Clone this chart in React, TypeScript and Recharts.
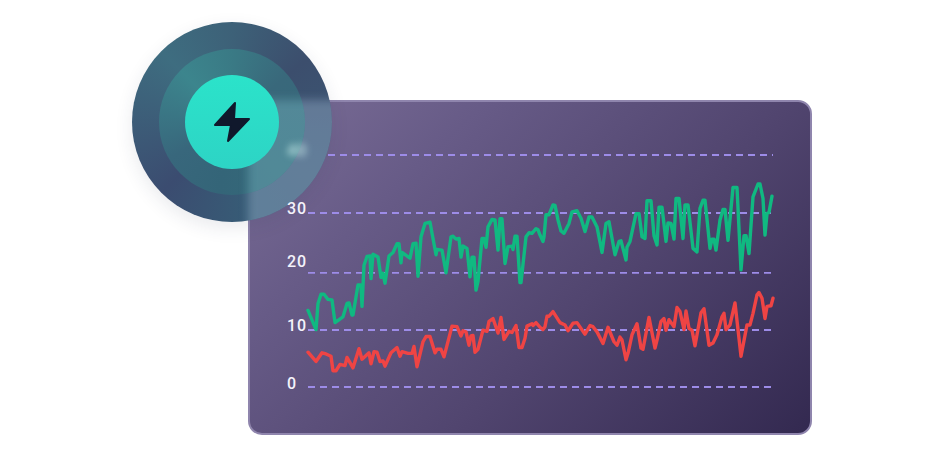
import React from "react";
import { LineChart, Line, XAxis, YAxis, ReferenceLine } from "recharts";

const tickLabels = [0, 10, 20, 30, 40];
const gridValues = [0, 9.83, 19.66, 30];
const topGridValue = 40;

const greenT = [0,8,10,13,16,20,24,27,35,39,41,44,45,50,53,54,56,59,62,63,65,70,73,75,77,81,85,89,91,93,94,102,105,108,110,113,117,122,128,129,134,138,143,145,148,151,153,155,159,162,164,166,168,170,174,176,178,180,184,187,190,192,194,197,200,204,205,207,209,212,213,218,221,224,228,230,232,235,236,238,241,245,247,250,253,256,261,264,269,273,277,281,284,289,294,298,301,307,311,313,318,319,322,328,331,334,337,339,343,346,349,351,354,358,360,363,366,368,371,375,377,380,385,389,392,395,397,402,404,406,408,412,415,417,420,425,429,433,436,438,441,445,450,452,455,457,459,461,464];
const greenV = [13.2,9.9,14.4,16,16,15.1,15,11.1,12.1,14.4,14.5,12.4,12.4,17.6,17.6,13.9,21,22.5,22.6,18.7,22.9,22.4,18.9,19.6,17.9,22.6,23.2,24.7,24.7,21.4,23.2,22.2,24.7,24.8,19.1,25.9,28.2,28.4,22.8,23.7,23.6,19.7,25.9,26,25.5,25.6,22.4,24.3,23.9,19,22.4,22.4,16.7,18.2,25.6,25.6,24.1,27.6,28.9,28.8,23.6,29,29,21.3,24.2,24.3,23.7,26,26,18,18,25.9,26.6,26.5,27.3,27.1,26.2,25.1,25.9,29.7,29.7,31.4,31.3,28.8,26.9,26.5,28.2,30.2,30.4,29.1,26.8,29.3,29.3,27.6,23.2,28.2,28.5,22.8,25.1,25.2,21.9,24.1,25.1,29.9,29.9,25.9,25.6,32.1,32.1,26.1,24.5,31,31,25.1,28.3,28.2,25.5,32.5,32.5,25.6,31.4,31.4,23.9,23.3,30.8,32.2,32.2,23.9,25.5,25.5,23.6,28.8,30.6,30.6,25.3,34.4,34.4,20.2,26.1,26.1,23,32.8,35,35,32.5,26.2,29.9,30.1,32.9];

const redT = [0,8,14,18,23,25,28,32,37,39,45,51,54,61,63,66,69,72,75,77,83,89,92,94,100,104,106,109,115,118,122,127,129,133,136,144,149,153,155,158,161,163,165,167,170,175,179,181,185,190,193,196,201,204,208,211,214,217,219,224,225,228,232,235,237,239,241,245,252,257,260,265,269,277,282,285,289,295,300,306,309,312,314,318,320,324,329,333,335,341,347,349,353,356,358,361,366,369,372,376,378,381,384,387,393,396,401,405,409,414,416,418,422,427,433,439,442,445,449,451,454,457,459,463,465];
const redV = [6,4.4,5.9,5.7,5.3,2.8,2.8,3.9,3.7,5.1,3.3,6.6,4.8,5.9,4,6.1,6,4.4,4.5,3.6,5.9,6.8,5.3,6.1,5.8,5.8,7,3.5,7.8,8.7,8.7,5.9,6.5,6.5,5.2,10.5,10.4,8.8,9.7,9.5,7.2,8.8,8.9,6,6.5,9.8,9.6,11.3,11.8,9.3,12,8.2,9.6,9.4,10.6,6.8,6.8,8.4,10.5,10.9,10.6,11.1,10.3,9.9,10.4,12.2,12.2,13,11.1,10.7,9.7,11,11.1,9.1,10.6,10.4,9.5,7.5,10.3,7.8,7.2,8.6,8.1,4.7,5.8,9,10.9,6.7,6.5,12,6.7,8.1,11.3,11.8,9.8,11.6,10.4,13.7,13,9.9,13.1,10.1,9.8,7.1,12.8,13.5,7.2,7.6,9,12.1,12.7,9.9,10.7,14.5,5.3,10.7,10.7,12.7,15.9,16.3,15.3,11.8,13.9,14,15.3];

const greenData = greenT.map((t, i) => ({ t, v: greenV[i] }));
const redData = redT.map((t, i) => ({ t, v: redV[i] }));

const labelShift: Record<number, number> = { 0: -4, 10: -4, 20: -10, 30: -5, 40: -5 };

function Tick(props: any) {
  const { y, payload } = props;
  const v = payload.value;
  return (
    <text
      x={287}
      y={y + labelShift[v]}
      textAnchor="start"
      dominantBaseline="central"
      fontFamily="Roboto"
      fontWeight={500}
      fontSize={16}
      letterSpacing={0.8}
      fill={v === 40 ? "#c8ecea" : "#f4f2fa"}
      style={v === 40 ? { filter: "blur(3.5px)" } : undefined}
    >
      {v}
    </text>
  );
}

const abs: React.CSSProperties = { position: "absolute" };

function Glass({ r, color }: { r: number; color: string }) {
  return (
    <div
      style={{
        ...abs,
        left: r + 16,
        top: r - 22,
        width: 300,
        height: 300,
        background: color,
        filter: "blur(4px)",
      }}
    />
  );
}

export default function App() {
  return (
    <div style={{ ...abs, left: 0, top: 0, width: 942, height: 464, background: "#fff", overflow: "hidden" }}>
      <div
        style={{
          ...abs,
          boxSizing: "border-box",
          left: 248,
          top: 100,
          width: 564,
          height: 335,
          borderRadius: 14,
          border: "2px solid #8f85ad",
          background: "linear-gradient(136deg,#7a6d96 0%,#675b87 26%,#51456f 60%,#332950 100%)",
        }}
      />
      <div
        style={{
          ...abs,
          left: 132,
          top: 22,
          width: 200,
          height: 200,
          borderRadius: "50%",
          overflow: "hidden",
          background:
            "conic-gradient(#3d6178 0deg,#3c4e6d 50deg,#3b5874 110deg,#375c76 170deg,#3b4c70 225deg,#3e6d80 315deg,#3d6178 360deg)",
        }}
      >
        <Glass r={100} color="rgba(170,190,220,0.36)" />
      </div>
      <div style={{ ...abs, left: 132, top: 22, width: 200, height: 200, borderRadius: "50%", boxShadow: "0 6px 18px rgba(40,50,80,0.10)" }} />
      <div
        style={{
          ...abs,
          left: 159,
          top: 49,
          width: 146,
          height: 146,
          borderRadius: "50%",
          overflow: "hidden",
          background:
            "conic-gradient(#3a7a85 0deg,#39687b 50deg,#35697a 140deg,#346578 190deg,#38677c 240deg,#3c858d 315deg,#3a7a85 360deg)",
        }}
      >
        <Glass r={73} color="rgba(140,205,215,0.32)" />
      </div>
      <div
        style={{
          ...abs,
          left: 185,
          top: 75,
          width: 94,
          height: 94,
          borderRadius: "50%",
          background: "linear-gradient(180deg,#2be3ca 0%,#2dd4c5 100%)",
        }}
      />
      <svg width={942} height={464} style={{ ...abs, left: 0, top: 0 }}>
        <path
          d="M235 103 L215 125 L231 125 L228 141 L249 119 L234 119 Z"
          fill="#10182c"
          stroke="#10182c"
          strokeWidth={2}
          strokeLinejoin="round"
        />
      </svg>
      <div style={{ ...abs, left: 0, top: 0 }}>
        <LineChart
          width={942}
          height={464}
          data={greenData}
          margin={{ left: 268, right: 169, top: 155, bottom: 77 }}
        >
          <XAxis type="number" dataKey="t" domain={[0, 465]} hide />
          <YAxis
            type="number"
            width={40}
            domain={[0, 40]}
            ticks={tickLabels}
            axisLine={false}
            tickLine={false}
            tick={<Tick />}
            interval={0}
          />
          {gridValues.map((g) => (
            <ReferenceLine key={g} y={g} stroke="#9d8ce8" strokeWidth={1.8} strokeDasharray="7 5" />
          ))}
          <ReferenceLine
            segment={[{ x: 20, y: topGridValue }, { x: 465, y: topGridValue }]}
            stroke="#9d8ce8"
            strokeWidth={1.8}
            strokeDasharray="7 5"
          />
          <Line data={greenData} dataKey="v" type="linear" stroke="#10b981" strokeWidth={3.4} strokeLinejoin="round" strokeLinecap="round" dot={false} isAnimationActive={false} />
          <Line data={redData} dataKey="v" type="linear" stroke="#ef4444" strokeWidth={3.4} strokeLinejoin="round" strokeLinecap="round" dot={false} isAnimationActive={false} />
        </LineChart>
      </div>
    </div>
  );
}
